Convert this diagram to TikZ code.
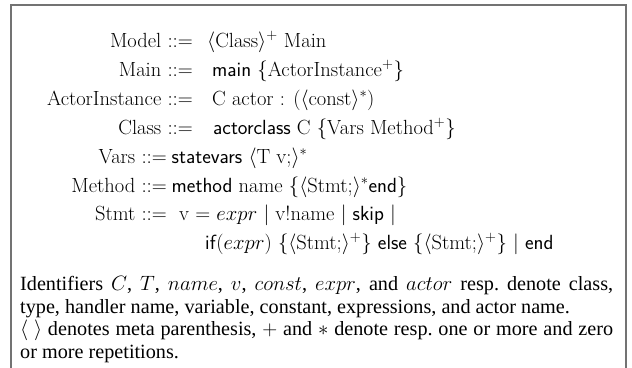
\documentclass[tikz,border=0pt]{standalone}
\usepackage{fontspec}
\newfontfamily\timesfont{Liberation Serif}
\tikzset{
  gram/.style={inner sep=0pt, font=\fontsize{20.5}{24}\selectfont},
  lhs/.style={gram, anchor=base east},
  rhs/.style={gram, anchor=base west},
  note/.style={inner sep=0pt, anchor=north west, text width=593pt, align=justify,
    font=\timesfont\fontsize{20.2}{22.6}\selectfont\frenchspacing},
  frame/.style={draw=black!55, line width=1.4pt}
}
\begin{document}
\begin{tikzpicture}[x=1pt,y=1pt]
\useasboundingbox (0,0) rectangle (632,-367);
\coordinate (bl) at (11,-368);
\coordinate (tl) at (11,-5);
\coordinate (tr) at (626,-5);
\coordinate (br) at (626,-368);
\draw[frame] (bl) -- (tl) -- (tr) -- (br);

\node[lhs] (l1) at (193,-47) {Model $::=$};
\node[rhs] (r1) at (207,-47) {$\langle$Class$\rangle^+$ Main};
\node[lhs] (l2) at (193,-76) {Main $::=$};
\node[rhs] (r2) at (212,-76) {\textsf{main} $\{$ActorInstance$^+\}$};
\node[lhs] (l3) at (193,-105) {ActorInstance $::=$};
\node[rhs] (r3) at (212,-105) {C actor : ($\langle$const$\rangle^*$)};
\node[lhs] (l4) at (193,-134) {Class $::=$};
\node[rhs] (r4) at (213,-134) {\textsf{actorclass} C $\{$Vars Method$^+\}$};
\node[lhs] (l5) at (167,-163) {Vars $::=$};
\node[rhs] (r5) at (171.5,-163) {\textsf{statevars} $\langle$T v;$\rangle^*$};
\node[lhs] (l6) at (167,-192) {Method $::=$};
\node[rhs] (r6) at (171.5,-192) {\textsf{method} name $\{\langle$Stmt;$\rangle^*$\textsf{end}$\}$};
\node[lhs] (l7) at (167,-220) {Stmt $::=$};
\node[rhs] (r7) at (179,-220) {v $=$ $expr$ $|$ v!name $|$ \textsf{skip} $|$};
\node[rhs] (r8) at (205,-249) {\textsf{if}($expr$) $\{\langle$Stmt;$\rangle^+\}$ \textsf{else} $\{\langle$Stmt;$\rangle^+\}$ $|$ \textsf{end}};

\node[note] (n) at (20,-276) {Identifiers $C$, $T$, $name$, $v$, $const$, $expr$, and $actor$ resp. denote class,\linebreak
type, handler name, variable, constant, expressions, and actor name.\newline
$\langle\ \rangle$ denotes meta parenthesis, $+$ and $*$ denote resp. one or more and zero\linebreak
or more repetitions.};
\end{tikzpicture}
\end{document}
